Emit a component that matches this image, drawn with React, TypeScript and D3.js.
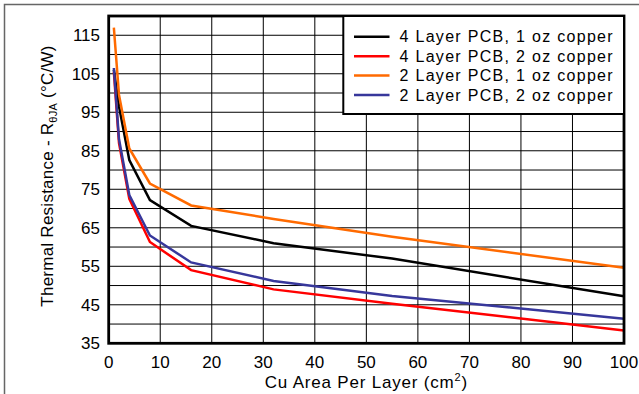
import React from "react";
import * as d3 from "d3";

const xValues = [1, 2, 4, 8, 16, 32, 55, 100];
const seriesNames = [
  "4 Layer PCB, 1 oz copper",
  "4 Layer PCB, 2 oz copper",
  "2 Layer PCB, 1 oz copper",
  "2 Layer PCB, 2 oz copper",
];
const seriesColors = ["#000000", "#ff0000", "#ff6a00", "#37379b"];
const black4L1oz = [106, 96.5, 82.6, 72.2, 65.5, 61.0, 57.0, 47.2];
const red4L2oz = [105.5, 87, 72.5, 61.3, 54.0, 49.0, 45.3, 38.3];
const orange2L1oz = [117, 99.5, 85.6, 76.5, 70.8, 67.3, 62.7, 54.6];
const blue2L2oz = [106.5, 88, 73.5, 63.0, 56.0, 51.2, 47.3, 41.4];
const seriesValues = [black4L1oz, red4L2oz, orange2L1oz, blue2L2oz];
const xTicks = [0, 10, 20, 30, 40, 50, 60, 70, 80, 90, 100];
const yTicks = [35, 45, 55, 65, 75, 85, 95, 105, 115];
const yGrid = d3.range(35, 121, 5);

const FONT = "'Liberation Sans', Arial, Helvetica, sans-serif";

export default function App() {
  const left = 108.7, right = 624, top = 16, bottom = 343.3;
  const x = d3.scaleLinear().domain([0, 100]).range([left, right]);
  const y = d3.scaleLinear().domain([35, 120]).range([bottom, top]);
  const line = d3
    .line<[number, number]>()
    .x((d) => x(d[0]))
    .y((d) => y(d[1]));

  const legX = 343.3, legY = top, legW = right - 343.3, legH = 114 - top;
  const rowY = [36.7, 56.2, 75.6, 95];

  return (
    <svg
      width={639}
      height={394}
      style={{ position: "absolute", left: 0, top: 0, display: "block", background: "#fff" }}
      fontFamily={FONT}
    >
      <rect x={0} y={0} width={639} height={394} fill="#fff" />
      <rect x={4.5} y={4.5} width={700} height={500} fill="none" stroke="#666" strokeWidth={1.5} />

      {/* grid */}
      {yGrid.map((v) => (
        <line key={"gy" + v} x1={left} x2={right} y1={y(v)} y2={y(v)} stroke="#000" strokeWidth={1} />
      ))}
      {xTicks.map((v) => (
        <line key={"gx" + v} x1={x(v)} x2={x(v)} y1={top} y2={bottom} stroke="#000" strokeWidth={1} />
      ))}

      {/* series */}
      {seriesValues.map((vals, i) => (
        <path
          key={"s" + i}
          d={line(xValues.map((xv, j) => [xv, vals[j]] as [number, number])) || ""}
          fill="none"
          stroke={seriesColors[i]}
          strokeWidth={2.5}
        />
      ))}

      {/* plot frame */}
      <rect x={left} y={top} width={right - left} height={bottom - top} fill="none" stroke="#000" strokeWidth={2.8} />

      {/* y tick labels */}
      {yTicks.map((v) => (
        <text key={"yt" + v} x={100} y={y(v) + 6} textAnchor="end" fontSize={17} fill="#000">
          {v}
        </text>
      ))}
      {/* x tick labels */}
      {xTicks.map((v) => (
        <text key={"xt" + v} x={x(v)} y={368} textAnchor="middle" fontSize={17} fill="#000">
          {v}
        </text>
      ))}

      {/* x title */}
      <text x={(left + right) / 2} y={388} textAnchor="middle" fontSize={17} letterSpacing={0.8} fill="#000">
        Cu Area Per Layer (cm
        <tspan fontSize={11} dy={-7}>2</tspan>
        <tspan dy={7}>)</tspan>
      </text>

      {/* y title */}
      <text
        transform={`translate(52.5,176) rotate(-90)`}
        textAnchor="middle"
        fontSize={17}
        letterSpacing={0.25}
        fill="#000"
      >
        Thermal Resistance - R
        <tspan fontSize={11} dy={4}>θJA</tspan>
        <tspan dy={-4}> (°C/W)</tspan>
      </text>

      {/* legend */}
      <rect x={legX} y={legY} width={legW} height={legH} fill="#fff" stroke="#000" strokeWidth={2} />
      {seriesNames.map((name, i) => (
        <g key={"lg" + i}>
          <line x1={354} x2={389.5} y1={rowY[i]} y2={rowY[i]} stroke={seriesColors[i]} strokeWidth={2.5} />
          <text x={399.5} y={rowY[i] + 5.7} fontSize={16} letterSpacing={1.3} fill="#000">
            {name}
          </text>
        </g>
      ))}
    </svg>
  );
}
